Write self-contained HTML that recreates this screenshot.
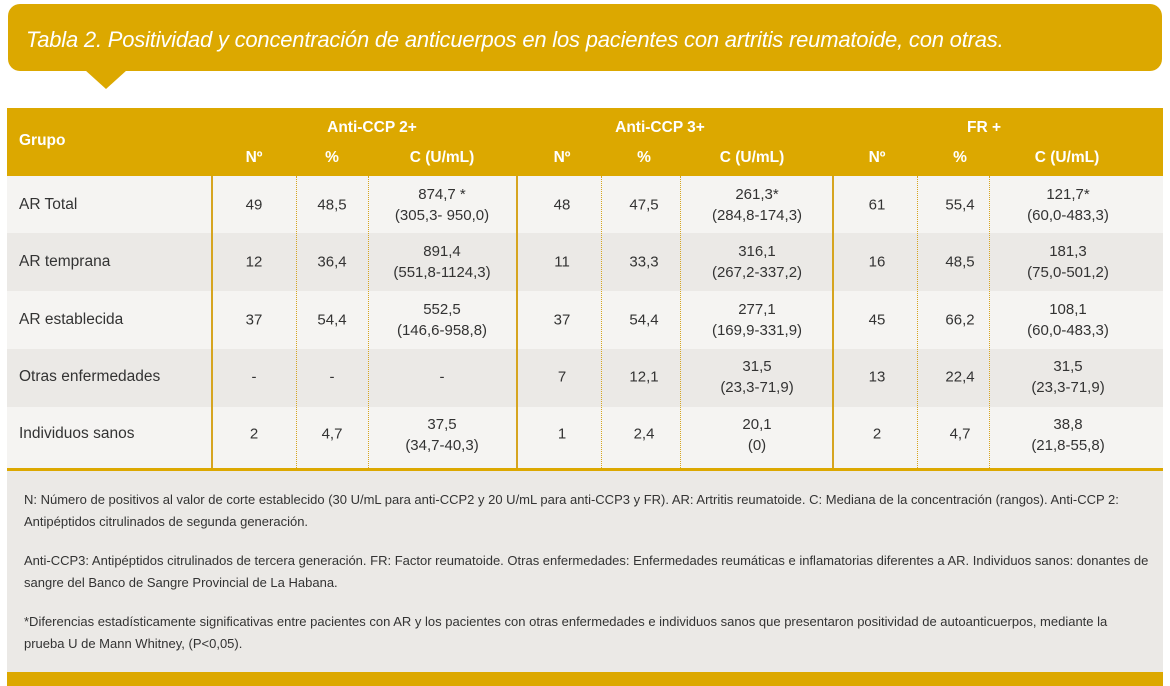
<!DOCTYPE html>
<html><head><meta charset="utf-8"><style>
body{margin:0;width:1170px;height:686px;background:#fff;font-family:"Liberation Sans",sans-serif;position:relative;overflow:hidden;color:#333}
.title{position:absolute;left:8px;top:4px;width:1154px;height:67px;background:#dca800;border-radius:12px;}
.title span{position:absolute;left:18px;top:23px;color:#fff;font-style:italic;font-size:22px;white-space:nowrap;letter-spacing:-0.2px}
.tri{position:absolute;left:85px;top:70px;width:0;height:0;border-left:21px solid transparent;border-right:21px solid transparent;border-top:19px solid #dca800}
.hdr{position:absolute;left:7px;top:108px;width:1156px;height:68px;background:#dca800}
.t{position:absolute;white-space:nowrap;transform:translateX(-50%);text-align:center}
.h{color:#fff;font-weight:bold;font-size:15.5px}
.row{position:absolute;left:7px;width:1156px}
.c{position:absolute;font-size:15px;line-height:21px;text-align:center;transform:translate(-50%,-50%);white-space:nowrap}
.l{position:absolute;font-size:15.5px;left:19px;transform:translateY(-50%);white-space:nowrap}
.vs{position:absolute;top:176px;height:292px;width:0;border-left:2px solid #d6a520}
.vd{position:absolute;top:176px;height:292px;width:0;border-left:1px dotted #d6a520}
.notes{position:absolute;left:7px;top:471px;width:1156px;height:201px;background:#ebe9e6}
.notes p{margin:0;position:absolute;left:17px;width:1132px;font-size:13px;line-height:22px;color:#333}
</style></head><body>
<div class="title"><span>Tabla 2. Positividad y concentración de anticuerpos en los pacientes con artritis reumatoide, con otras.</span></div>
<div class="tri"></div>
<div class="hdr"></div>
<div class="h" style="position:absolute;left:19px;top:132px">Grupo</div>
<div class="t h" style="left:372px;top:119px">Anti-CCP 2+</div>
<div class="t h" style="left:660px;top:119px">Anti-CCP 3+</div>
<div class="t h" style="left:984px;top:119px">FR +</div>
<div class="t h" style="left:254px;top:149px">Nº</div>
<div class="t h" style="left:332px;top:149px">%</div>
<div class="t h" style="left:442px;top:149px">C (U/mL)</div>
<div class="t h" style="left:562px;top:149px">Nº</div>
<div class="t h" style="left:644px;top:149px">%</div>
<div class="t h" style="left:752px;top:149px">C (U/mL)</div>
<div class="t h" style="left:877px;top:149px">Nº</div>
<div class="t h" style="left:960px;top:149px">%</div>
<div class="t h" style="left:1067px;top:149px">C (U/mL)</div>

<div class="row" style="top:176px;height:57px;background:#f5f4f2"></div>
<div class="row" style="top:233px;height:58px;background:#ebe9e6"></div>
<div class="row" style="top:291px;height:58px;background:#f5f4f2"></div>
<div class="row" style="top:349px;height:58px;background:#ebe9e6"></div>
<div class="row" style="top:407px;height:61px;background:#f5f4f2"></div>
<div class="row" style="top:468px;height:3px;background:#dca800"></div>

<div class="vs" style="left:211px"></div><div class="vs" style="left:516px"></div><div class="vs" style="left:832px"></div>
<div class="vd" style="left:296px"></div><div class="vd" style="left:368px"></div>
<div class="vd" style="left:601px"></div><div class="vd" style="left:680px"></div>
<div class="vd" style="left:917px"></div><div class="vd" style="left:989px"></div>

<div class="l" style="top:205px">AR Total</div>
<div class="c" style="left:254px;top:205px">49</div><div class="c" style="left:332px;top:205px">48,5</div><div class="c" style="left:442px;top:205px">874,7 *<br>(305,3- 950,0)</div>
<div class="c" style="left:562px;top:205px">48</div><div class="c" style="left:644px;top:205px">47,5</div><div class="c" style="left:757px;top:205px">261,3*<br>(284,8-174,3)</div>
<div class="c" style="left:877px;top:205px">61</div><div class="c" style="left:960px;top:205px">55,4</div><div class="c" style="left:1068px;top:205px">121,7*<br>(60,0-483,3)</div>

<div class="l" style="top:262px">AR temprana</div>
<div class="c" style="left:254px;top:262px">12</div><div class="c" style="left:332px;top:262px">36,4</div><div class="c" style="left:442px;top:262px">891,4<br>(551,8-1124,3)</div>
<div class="c" style="left:562px;top:262px">11</div><div class="c" style="left:644px;top:262px">33,3</div><div class="c" style="left:757px;top:262px">316,1<br>(267,2-337,2)</div>
<div class="c" style="left:877px;top:262px">16</div><div class="c" style="left:960px;top:262px">48,5</div><div class="c" style="left:1068px;top:262px">181,3<br>(75,0-501,2)</div>

<div class="l" style="top:320px">AR establecida</div>
<div class="c" style="left:254px;top:320px">37</div><div class="c" style="left:332px;top:320px">54,4</div><div class="c" style="left:442px;top:320px">552,5<br>(146,6-958,8)</div>
<div class="c" style="left:562px;top:320px">37</div><div class="c" style="left:644px;top:320px">54,4</div><div class="c" style="left:757px;top:320px">277,1<br>(169,9-331,9)</div>
<div class="c" style="left:877px;top:320px">45</div><div class="c" style="left:960px;top:320px">66,2</div><div class="c" style="left:1068px;top:320px">108,1<br>(60,0-483,3)</div>

<div class="l" style="top:377px">Otras enfermedades</div>
<div class="c" style="left:254px;top:377px">-</div><div class="c" style="left:332px;top:377px">-</div><div class="c" style="left:442px;top:377px">-</div>
<div class="c" style="left:562px;top:377px">7</div><div class="c" style="left:644px;top:377px">12,1</div><div class="c" style="left:757px;top:377px">31,5<br>(23,3-71,9)</div>
<div class="c" style="left:877px;top:377px">13</div><div class="c" style="left:960px;top:377px">22,4</div><div class="c" style="left:1068px;top:377px">31,5<br>(23,3-71,9)</div>

<div class="l" style="top:434px">Individuos sanos</div>
<div class="c" style="left:254px;top:434px">2</div><div class="c" style="left:332px;top:434px">4,7</div><div class="c" style="left:442px;top:435px">37,5<br>(34,7-40,3)</div>
<div class="c" style="left:562px;top:434px">1</div><div class="c" style="left:644px;top:434px">2,4</div><div class="c" style="left:757px;top:435px">20,1<br>(0)</div>
<div class="c" style="left:877px;top:434px">2</div><div class="c" style="left:960px;top:434px">4,7</div><div class="c" style="left:1068px;top:435px">38,8<br>(21,8-55,8)</div>

<div class="notes">
<p style="top:18px">N: Número de positivos al valor de corte establecido (30 U/mL para anti-CCP2 y 20 U/mL para anti-CCP3 y FR). AR: Artritis reumatoide. C: Mediana de la concentración (rangos). Anti-CCP 2: Antipéptidos citrulinados de segunda generación.</p>
<p style="top:79px">Anti-CCP3: Antipéptidos citrulinados de tercera generación. FR: Factor reumatoide. Otras enfermedades: Enfermedades reumáticas e inflamatorias diferentes a AR. Individuos sanos: donantes de sangre del Banco de Sangre Provincial de La Habana.</p>
<p style="top:140px;width:1120px">*Diferencias estadísticamente significativas entre pacientes con AR y los pacientes con otras enfermedades e individuos sanos que presentaron positividad de autoanticuerpos, mediante la prueba U de Mann Whitney, (P&lt;0,05).</p>
</div>
<div style="position:absolute;left:7px;top:672px;width:1156px;height:14px;background:#dca800"></div>
</body></html>
